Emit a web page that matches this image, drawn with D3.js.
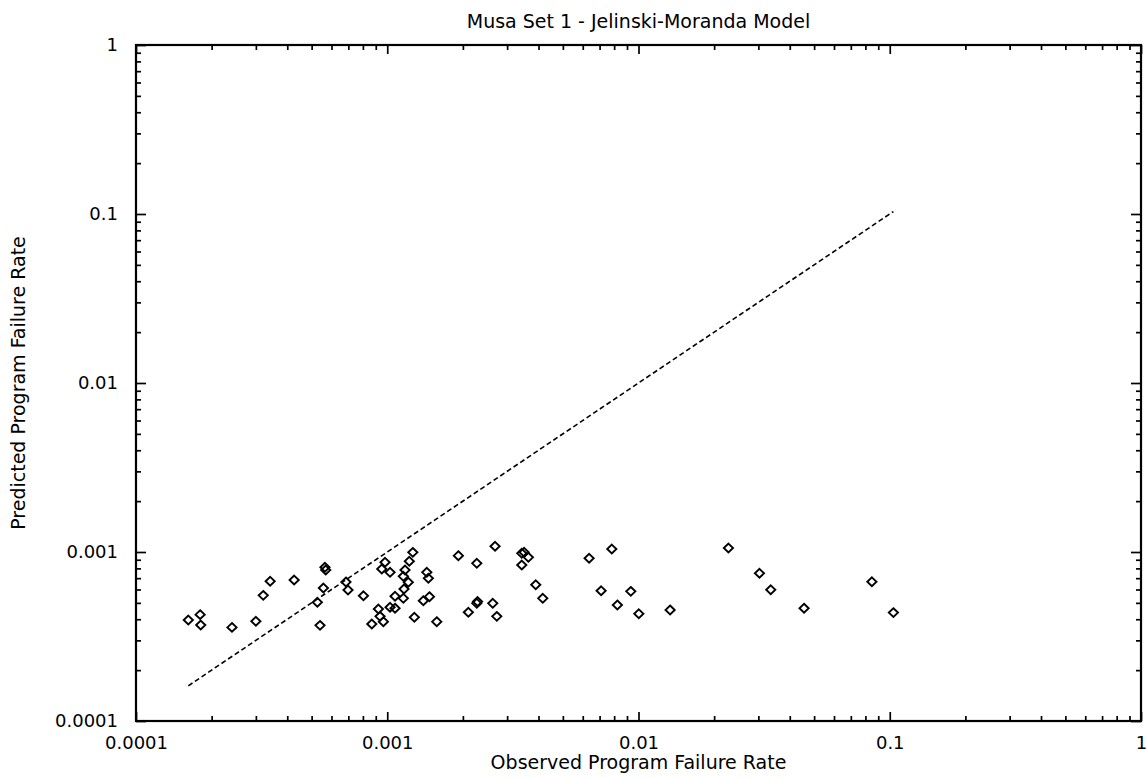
<!DOCTYPE html>
<html>
<head>
<meta charset="utf-8">
<script src="https://cdn.jsdelivr.net/npm/d3@7"></script>
<style>
  html, body { margin: 0; padding: 0; background: #fff; }
  svg { display: block; }
  text { font-family: "DejaVu Sans", "Liberation Sans", Arial, sans-serif; fill: #000; }
</style>
</head>
<body>
<svg id="chart" width="1147" height="778"></svg>
<script>
// Observed vs. predicted program failure rates (Musa data set 1, J-M model)
const observed = [
  1.615e-4, 1.80e-4, 1.81e-4, 2.41e-4, 3.00e-4, 3.21e-4, 3.42e-4, 4.26e-4,
  5.65e-4, 5.69e-4, 5.57e-4, 5.27e-4, 5.40e-4, 6.85e-4, 6.98e-4, 8.04e-4,
  8.68e-4, 9.22e-4, 9.36e-4, 9.65e-4, 9.51e-4, 9.80e-4, 1.026e-3, 1.026e-3,
  1.074e-3, 1.074e-3, 1.159e-3, 1.166e-3, 1.213e-3, 1.159e-3, 1.177e-3, 1.224e-3,
  1.264e-3, 1.282e-3, 1.437e-3, 1.458e-3, 1.392e-3, 1.472e-3, 1.574e-3, 1.919e-3,
  2.272e-3, 2.686e-3, 2.103e-3, 2.272e-3, 2.288e-3, 2.63e-3, 2.729e-3, 3.431e-3,
  3.505e-3, 3.645e-3, 3.431e-3, 3.90e-3, 4.159e-3, 6.36e-3, 7.83e-3, 7.10e-3,
  9.32e-3, 8.24e-3, 1.003e-2, 1.336e-2, 2.28e-2, 3.03e-2, 3.36e-2, 4.56e-2,
  8.49e-2, 0.1034
];
const predicted = [
  3.96e-4, 4.26e-4, 3.70e-4, 3.58e-4, 3.89e-4, 5.54e-4, 6.71e-4, 6.83e-4,
  8.12e-4, 7.82e-4, 6.12e-4, 5.04e-4, 3.68e-4, 6.65e-4, 5.96e-4, 5.51e-4,
  3.75e-4, 4.60e-4, 4.16e-4, 3.87e-4, 7.93e-4, 8.69e-4, 7.58e-4, 4.71e-4,
  4.65e-4, 5.47e-4, 5.32e-4, 6.04e-4, 6.62e-4, 7.18e-4, 7.82e-4, 8.81e-4,
  9.95e-4, 4.11e-4, 7.58e-4, 6.99e-4, 5.15e-4, 5.44e-4, 3.87e-4, 9.51e-4,
  8.57e-4, 1.081e-3, 4.40e-4, 4.97e-4, 5.09e-4, 4.97e-4, 4.16e-4, 9.82e-4,
  9.96e-4, 9.30e-4, 8.38e-4, 6.40e-4, 5.32e-4, 9.18e-4, 1.042e-3, 5.90e-4,
  5.85e-4, 4.86e-4, 4.31e-4, 4.54e-4, 1.056e-3, 7.48e-4, 5.98e-4, 4.65e-4,
  6.67e-4, 4.38e-4
];

const majorTicks = [1e-4, 1e-3, 1e-2, 1e-1, 1];
const tickLabels = ["0.0001", "0.001", "0.01", "0.1", "1"];

const titleText = "Musa Set 1 - Jelinski-Moranda Model";
const xTitle = "Observed Program Failure Rate";
const yTitle = "Predicted Program Failure Rate";

const FONT = '"DejaVu Sans", "Liberation Sans", Arial, sans-serif';
const svg = d3.select("#chart");
const plotL = 136, plotR = 1141, plotT = 45, plotB = 721;

const x = d3.scaleLog().domain([1e-4, 1]).range([plotL, plotR]);
const y = d3.scaleLog().domain([1e-4, 1]).range([plotB, plotT]);

// minor ticks: 2..9 within each decade
const isMajor = v => majorTicks.some(m => Math.abs(m - v) / m < 1e-9);
const minorTicks = x.ticks().filter(v => !isMajor(v));
const labelOf = v => tickLabels[majorTicks.findIndex(m => Math.abs(m - v) / m < 1e-9)];

function styleAxis(g) {
  g.select(".domain").remove();
  g.selectAll(".tick line").attr("stroke", "#000").attr("stroke-width", 1.7);
  g.selectAll(".tick text")
    .style("font-family", FONT)
    .style("font-size", "18px").attr("fill", "#000");
}

// bottom axis with labels
svg.append("g").attr("transform", `translate(0,${plotB})`)
  .call(d3.axisBottom(x).tickValues(majorTicks).tickSize(-9).tickPadding(15).tickFormat(labelOf))
  .call(styleAxis);
svg.append("g").attr("transform", `translate(0,${plotB})`)
  .call(d3.axisBottom(x).tickValues(minorTicks).tickSize(-5).tickFormat(""))
  .call(styleAxis);

// top axis (ticks only)
svg.append("g").attr("transform", `translate(0,${plotT})`)
  .call(d3.axisTop(x).tickValues(majorTicks).tickSize(-9).tickFormat(""))
  .call(styleAxis);
svg.append("g").attr("transform", `translate(0,${plotT})`)
  .call(d3.axisTop(x).tickValues(minorTicks).tickSize(-5).tickFormat(""))
  .call(styleAxis);

// left axis with labels
svg.append("g").attr("transform", `translate(${plotL},0)`)
  .call(d3.axisLeft(y).tickValues(majorTicks).tickSize(-10).tickPadding(18).tickFormat(labelOf))
  .call(styleAxis);
svg.append("g").attr("transform", `translate(${plotL},0)`)
  .call(d3.axisLeft(y).tickValues(minorTicks).tickSize(-5).tickFormat(""))
  .call(styleAxis);

// right axis (ticks only)
svg.append("g").attr("transform", `translate(${plotR},0)`)
  .call(d3.axisRight(y).tickValues(majorTicks).tickSize(-10).tickFormat(""))
  .call(styleAxis);
svg.append("g").attr("transform", `translate(${plotR},0)`)
  .call(d3.axisRight(y).tickValues(minorTicks).tickSize(-5).tickFormat(""))
  .call(styleAxis);

// plot frame
svg.append("rect")
  .attr("x", plotL).attr("y", plotT)
  .attr("width", plotR - plotL).attr("height", plotB - plotT)
  .attr("fill", "none").attr("stroke", "#000").attr("stroke-width", 2.2);

// line of perfect prediction across the observed range
const lo = d3.min(observed), hi = d3.max(observed);
svg.append("line")
  .attr("x1", x(lo)).attr("y1", y(lo))
  .attr("x2", x(hi)).attr("y2", y(hi))
  .attr("stroke", "#000").attr("stroke-width", 1.6)
  .attr("stroke-dasharray", "5,3");

// diamond markers
const diamond = "M0,-4.4L4.6,0L0,4.4L-4.6,0Z";
svg.append("g").selectAll("path")
  .data(observed.map((o, i) => [o, predicted[i]]))
  .join("path")
  .attr("d", diamond)
  .attr("transform", d => `translate(${x(d[0])},${y(d[1])})`)
  .attr("fill", "none").attr("stroke", "#000").attr("stroke-width", 1.9);

// titles
svg.append("text")
  .attr("x", (plotL + plotR) / 2).attr("y", 28)
  .attr("text-anchor", "middle").style("font-size", "19px")
  .text(titleText);
svg.append("text")
  .attr("x", (plotL + plotR) / 2).attr("y", 769)
  .attr("text-anchor", "middle").style("font-size", "19px")
  .text(xTitle);
svg.append("text")
  .attr("transform", `translate(25,${(plotT + plotB) / 2}) rotate(-90)`)
  .attr("text-anchor", "middle").style("font-size", "19px")
  .text(yTitle);
</script>
</body>
</html>
